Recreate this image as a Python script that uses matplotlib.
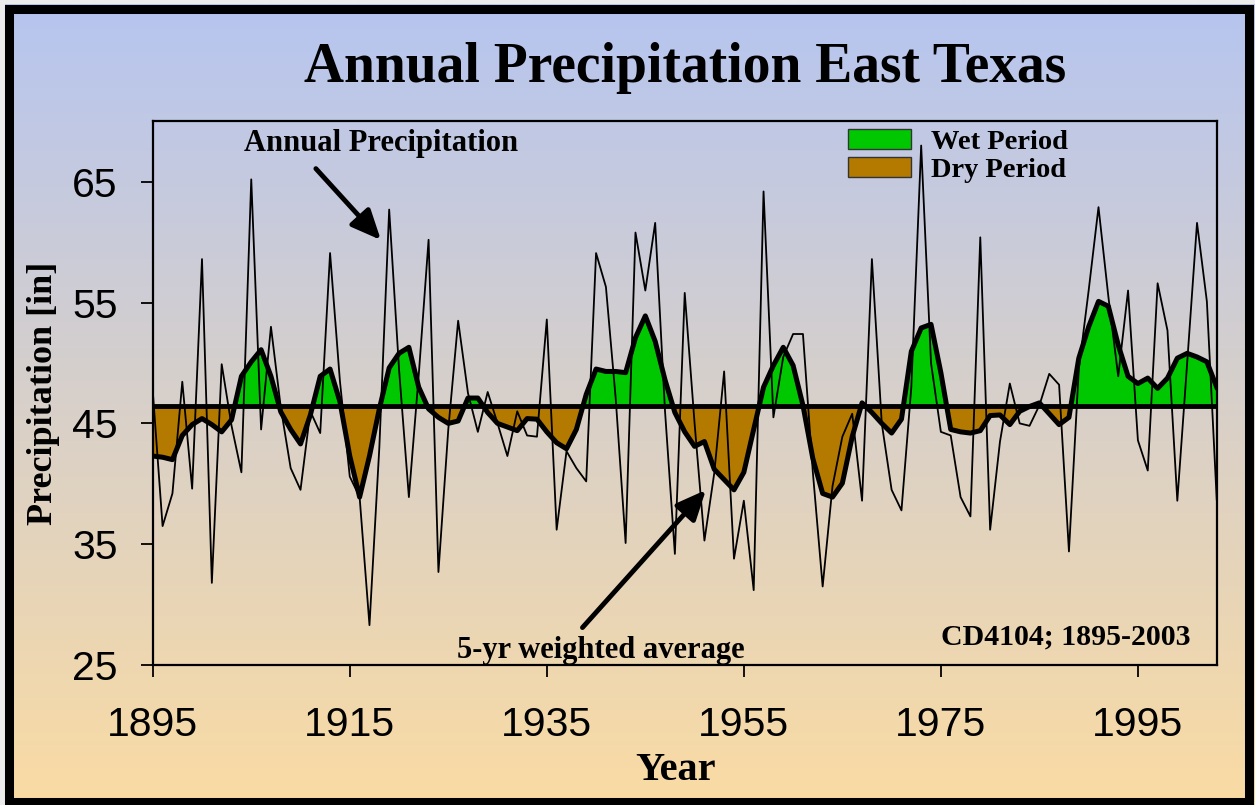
import numpy as np
import matplotlib
matplotlib.use("Agg")
import matplotlib.pyplot as plt
from matplotlib.patches import Rectangle, Patch

# ---- data -------------------------------------------------------------
years = np.arange(1895, 2004)

annual_precip = [
    47.7, 36.5, 39.2, 48.45, 39.6, 58.6, 31.8, 49.9, 44.8, 40.95,   # 1895-1904
    65.2, 44.5, 53.0, 46.3, 41.3, 39.5, 46.0, 44.2, 59.1, 48.5,     # 1905-1914
    40.6, 38.9, 28.3, 43.0, 62.7, 49.5, 38.9, 49.0, 60.2, 32.7,     # 1915-1924
    44.5, 53.5, 47.5, 44.3, 47.6, 45.0, 42.3, 46.0, 44.0, 43.9,     # 1925-1934
    53.6, 36.2, 42.7, 41.3, 40.2, 59.1, 56.3, 47.0, 35.1, 60.8,     # 1935-1944
    56.0, 61.6, 46.0, 34.2, 55.8, 45.0, 35.3, 40.9, 49.3, 33.8,     # 1945-1954
    38.6, 31.2, 64.2, 45.5, 50.5, 52.4, 52.4, 41.0, 31.5, 39.8,     # 1955-1964
    43.9, 45.8, 38.6, 58.6, 45.0, 39.5, 37.8, 48.0, 68.0, 50.0,     # 1965-1974
    44.3, 44.0, 38.9, 37.3, 60.4, 36.2, 43.5, 48.3, 45.0, 44.8,     # 1975-1984
    46.5, 49.1, 48.2, 34.4, 49.5, 56.0, 62.9, 55.5, 48.9, 56.0,     # 1985-1994
    43.6, 41.1, 56.6, 52.7, 38.6, 50.0, 61.6, 55.1, 38.7,           # 1995-2003
]

weighted_avg = [
    42.3, 42.2, 42.0, 44.0, 44.9, 45.4, 44.9, 44.3, 45.3, 48.9,     # 1895-1904
    50.1, 51.1, 48.9, 45.95, 44.5, 43.3, 45.7, 48.9, 49.5, 46.8,    # 1905-1914
    42.3, 38.9, 42.3, 46.2, 49.6, 50.8, 51.3, 48.0, 46.2, 45.5,     # 1915-1924
    45.0, 45.2, 47.1, 47.1, 45.9, 45.0, 44.7, 44.4, 45.4, 45.35,    # 1925-1934
    44.3, 43.4, 42.9, 44.5, 47.4, 49.5, 49.3, 49.3, 49.2, 52.1,     # 1935-1944
    53.9, 51.8, 48.6, 45.9, 44.3, 43.1, 43.5, 41.2, 40.35, 39.5,    # 1945-1954
    40.95, 44.5, 48.0, 49.8, 51.3, 49.8, 46.5, 42.1, 39.2, 38.9,    # 1955-1964
    40.05, 43.9, 46.7, 45.9, 45.0, 44.2, 45.35, 50.96, 52.9, 53.2,  # 1965-1974
    49.2, 44.5, 44.3, 44.2, 44.4, 45.65, 45.7, 44.9, 46.0, 46.4,    # 1975-1984
    46.7, 45.8, 44.9, 45.5, 50.4, 53.0, 55.1, 54.7, 51.5, 48.9,     # 1985-1994
    48.3, 48.75, 47.9, 48.75, 50.4, 50.8, 50.5, 50.1, 48.0,         # 1995-2003
]

long_term_mean = 46.45

x_ticks = [1895, 1915, 1935, 1955, 1975, 1995]
y_ticks = [25, 35, 45, 55, 65]

WET = "#00c800"
DRY = "#b47a00"
SERIF = "Liberation Serif"
SANS = "Liberation Sans"

annual_arr = np.array(annual_precip)
avg_arr = np.array(weighted_avg)

# ---- figure with vertical gradient background ------------------------
fig = plt.figure(figsize=(12.55, 8.05), dpi=100, facecolor="#ececec")

bg = fig.add_axes([0.004, 0.0, 0.996, 0.995], zorder=-5)
top_col = np.array([182, 197, 240]) / 255.0
bot_col = np.array([250, 219, 163]) / 255.0
t = np.linspace(0, 1, 256)[:, None, None]
grad = top_col + t * (bot_col - top_col)
bg.imshow(grad, aspect="auto", extent=[0, 1, 0, 1], interpolation="bilinear")
bg.axis("off")

# thick black outer frame
fig.patches.append(Rectangle((0.00717, 0.0037), 0.98803, 0.9857,
                             transform=fig.transFigure, fill=False,
                             edgecolor="black", linewidth=6.5, zorder=10))

# ---- main axes ---------------------------------------------------------
ax = fig.add_axes([0.1217, 0.1739, 0.8478, 0.6753])
ax.set_facecolor("none")
ax.set_xlim(1895, 2003)
ax.set_ylim(25, 70)

ax.fill_between(years, avg_arr, long_term_mean, where=avg_arr >= long_term_mean,
                interpolate=True, facecolor=WET, edgecolor="none", zorder=1)
ax.fill_between(years, avg_arr, long_term_mean, where=avg_arr < long_term_mean,
                interpolate=True, facecolor=DRY, edgecolor="none", zorder=1)
ax.axhline(long_term_mean, color="black", linewidth=3.5, zorder=2)
ax.plot(years, annual_arr, color="black", linewidth=1.3, zorder=3)
ax.plot(years, avg_arr, color="black", linewidth=3.6, zorder=4,
        solid_joinstyle="round")

for sp in ax.spines.values():
    sp.set_linewidth(1.6)
    sp.set_color("black")

ax.set_xticks(x_ticks)
ax.set_xticklabels([str(v) for v in x_ticks])
ax.set_yticks(y_ticks)
ax.set_yticklabels([str(v) for v in y_ticks])
ax.tick_params(axis="both", direction="out", length=8.6, width=1.3,
               labelsize=29.5, colors="black")
ax.tick_params(axis="x", pad=21)
ax.tick_params(axis="y", pad=16.5)
for lab in ax.get_xticklabels() + ax.get_yticklabels():
    lab.set_fontfamily(SANS)

ax.set_xlabel("Year", fontfamily=SERIF, fontweight="bold", fontsize=29,
              va="baseline")
ax.xaxis.set_label_coords(0.4909, (665 - 780) / 543.6)
ax.set_ylabel("Precipitation [in]", fontfamily=SERIF, fontweight="bold",
              fontsize=26, va="center")
ax.yaxis.set_label_coords(-0.103, 0.5)

# ---- title -------------------------------------------------------------
fig.text(685.5 / 1255, 1 - 82 / 805, "Annual Precipitation East Texas",
         ha="center", va="baseline", fontfamily=SERIF, fontweight="bold",
         fontsize=40)

# ---- annotations -------------------------------------------------------
ann_font = dict(fontfamily=SERIF, fontweight="bold", fontsize=22)
ax.text(1918.14, 67.51, "Annual Precipitation", ha="center", va="baseline",
        **ann_font)
ax.text(1940.47, 25.58, "5-yr weighted average", ha="center", va="baseline",
        **ann_font)
ax.text(1987.68, 26.66, "CD4104; 1895-2003", ha="center", va="baseline",
        fontfamily=SERIF, fontweight="bold", fontsize=21.5)

arrow_style = dict(arrowstyle="-|>,head_length=0.9,head_width=0.4",
                   color="black", lw=3.5, shrinkA=0, shrinkB=0,
                   mutation_scale=20)
ax.annotate("", xy=(1918.16, 60.18), xytext=(1911.56, 66.09),
            arrowprops=arrow_style, zorder=6)
ax.annotate("", xy=(1951.15, 39.49), xytext=(1938.62, 28.1),
            arrowprops=arrow_style, zorder=6)

# ---- legend ------------------------------------------------------------
handles = [Patch(facecolor=WET, edgecolor="#333333", linewidth=1.0,
                 label="Wet Period"),
           Patch(facecolor=DRY, edgecolor="#333333", linewidth=1.0,
                 label="Dry Period")]
ax.legend(handles=handles, loc="upper left", bbox_to_anchor=(0.6535, 0.9866),
          frameon=False, prop=dict(family=SERIF, weight="bold", size=20.5),
          handlelength=2.2, handleheight=0.72, handletextpad=0.72,
          labelspacing=0.08, borderpad=0, borderaxespad=0)

fig.savefig("out.png", dpi=100, facecolor=fig.get_facecolor())
